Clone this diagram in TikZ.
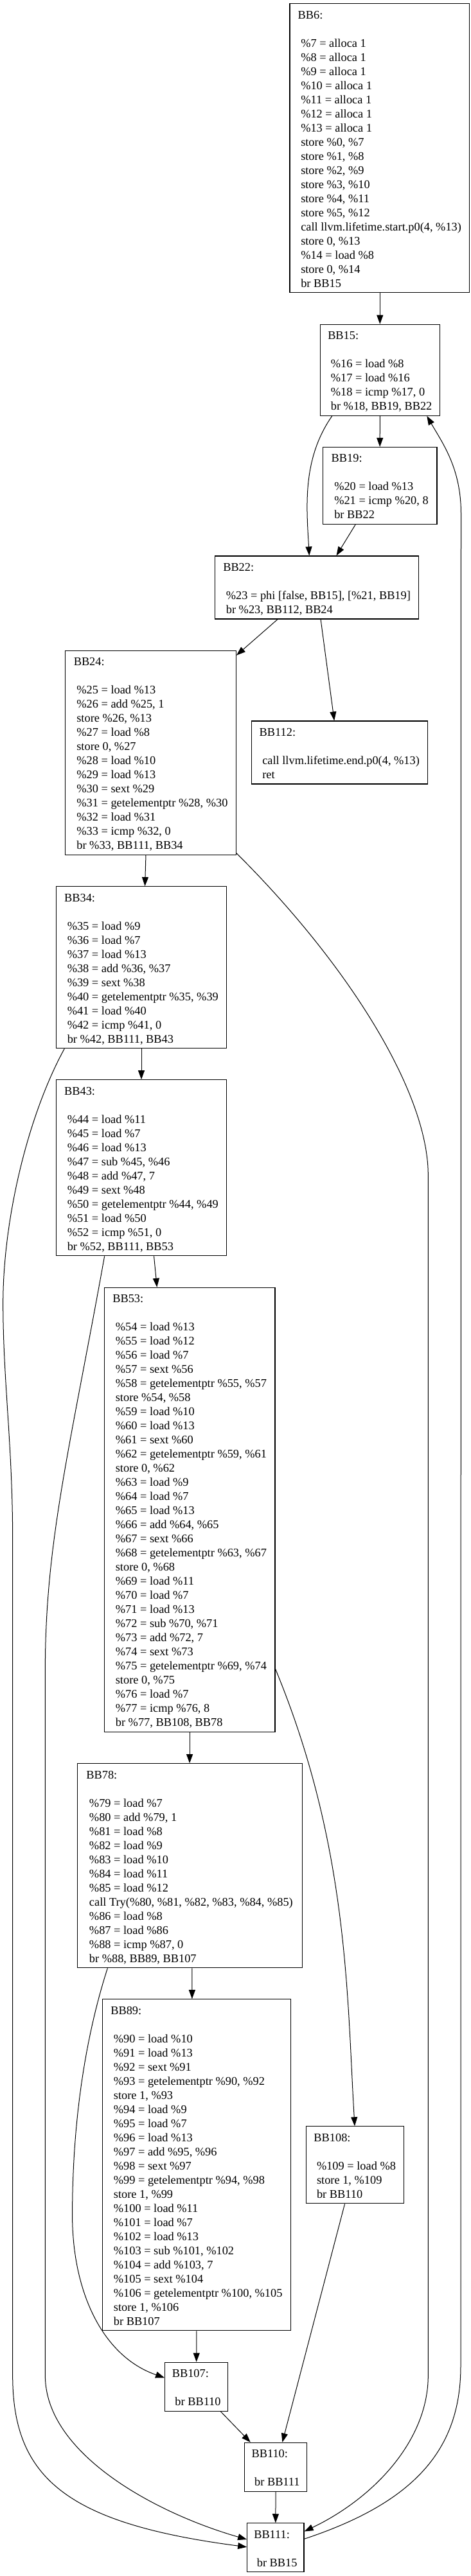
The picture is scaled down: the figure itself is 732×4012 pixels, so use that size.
\documentclass[tikz,border=0pt]{standalone}
\usepackage{fontspec}
\setmainfont{Liberation Serif}
\usetikzlibrary{arrows.meta}
\newcommand\sT{\rule[-3.6pt]{0pt}{22pt}}
\newcommand\iL{\sT\hspace*{0.25em}}
\newcommand\bbfont{\fontsize{18.35pt}{22pt}\selectfont}
\begin{document}
\lineskiplimit=-100pt\relax
\begin{tikzpicture}[x=1pt,y=-1pt,
  bb/.style={draw, line width=1.2pt, inner xsep=10.5pt, inner ysep=5pt, align=left, font=\bbfont},
  edge/.style={line width=1pt, -{Triangle[length=14pt,width=10pt]}}]
\useasboundingbox (0,0) rectangle (732,4012);

\node[bb, minimum width=279.6pt] (BB6) at (590.8,230.7) {\sT BB6:\\\sT\\\iL\%7 = alloca 1\\\iL\%8 = alloca 1\\\iL\%9 = alloca 1\\\iL\%10 = alloca 1\\\iL\%11 = alloca 1\\\iL\%12 = alloca 1\\\iL\%13 = alloca 1\\\iL store \%0, \%7\\\iL store \%1, \%8\\\iL store \%2, \%9\\\iL store \%3, \%10\\\iL store \%4, \%11\\\iL store \%5, \%12\\\iL call llvm.lifetime.start.p0(4, \%13)\\\iL store 0, \%13\\\iL\%14 = load \%8\\\iL store 0, \%14\\\iL br BB15};

\node[bb, minimum width=185.9pt] (BB15) at (591.3,576.3) {\sT BB15:\\\sT\\\iL\%16 = load \%8\\\iL\%17 = load \%16\\\iL\%18 = icmp \%17, 0\\\iL br \%18, BB19, BB22};

\node[bb, minimum width=177.4pt] (BB19) at (591.2,756.5) {\sT BB19:\\\sT\\\iL\%20 = load \%13\\\iL\%21 = icmp \%20, 8\\\iL br BB22};

\node[bb, minimum width=317.2pt] (BB22) at (493.1,915) {\sT BB22:\\\sT\\\iL\%23 = phi [false, BB15], [\%21, BB19]\\\iL br \%23, BB112, BB24};

\node[bb, minimum width=265.6pt] (BB24) at (234.6,1172.2) {\sT BB24:\\\sT\\\iL\%25 = load \%13\\\iL\%26 = add \%25, 1\\\iL store \%26, \%13\\\iL\%27 = load \%8\\\iL store 0, \%27\\\iL\%28 = load \%10\\\iL\%29 = load \%13\\\iL\%30 = sext \%29\\\iL\%31 = getelementptr \%28, \%30\\\iL\%32 = load \%31\\\iL\%33 = icmp \%32, 0\\\iL br \%33, BB111, BB34};

\node[bb, minimum width=274pt] (BB112) at (528.3,1172) {\sT BB112:\\\sT\\\iL call llvm.lifetime.end.p0(4, \%13)\\\iL ret};

\node[bb, minimum width=265.5pt] (BB34) at (220,1506.7) {\sT BB34:\\\sT\\\iL\%35 = load \%9\\\iL\%36 = load \%7\\\iL\%37 = load \%13\\\iL\%38 = add \%36, \%37\\\iL\%39 = sext \%38\\\iL\%40 = getelementptr \%35, \%39\\\iL\%41 = load \%40\\\iL\%42 = icmp \%41, 0\\\iL br \%42, BB111, BB43};

\node[bb, minimum width=265.5pt] (BB43) at (220,1818.8) {\sT BB43:\\\sT\\\iL\%44 = load \%11\\\iL\%45 = load \%7\\\iL\%46 = load \%13\\\iL\%47 = sub \%45, \%46\\\iL\%48 = add \%47, 7\\\iL\%49 = sext \%48\\\iL\%50 = getelementptr \%44, \%49\\\iL\%51 = load \%50\\\iL\%52 = icmp \%51, 0\\\iL br \%52, BB111, BB53};

\node[bb, minimum width=265.6pt] (BB53) at (295.1,2351.4) {\sT BB53:\\\sT\\\iL\%54 = load \%13\\\iL\%55 = load \%12\\\iL\%56 = load \%7\\\iL\%57 = sext \%56\\\iL\%58 = getelementptr \%55, \%57\\\iL store \%54, \%58\\\iL\%59 = load \%10\\\iL\%60 = load \%13\\\iL\%61 = sext \%60\\\iL\%62 = getelementptr \%59, \%61\\\iL store 0, \%62\\\iL\%63 = load \%9\\\iL\%64 = load \%7\\\iL\%65 = load \%13\\\iL\%66 = add \%64, \%65\\\iL\%67 = sext \%66\\\iL\%68 = getelementptr \%63, \%67\\\iL store 0, \%68\\\iL\%69 = load \%11\\\iL\%70 = load \%7\\\iL\%71 = load \%13\\\iL\%72 = sub \%70, \%71\\\iL\%73 = add \%72, 7\\\iL\%74 = sext \%73\\\iL\%75 = getelementptr \%69, \%74\\\iL store 0, \%75\\\iL\%76 = load \%7\\\iL\%77 = icmp \%76, 8\\\iL br \%77, BB108, BB78};

\node[bb, minimum width=350pt] (BB78) at (295.1,2905.7) {\sT BB78:\\\sT\\\iL\%79 = load \%7\\\iL\%80 = add \%79, 1\\\iL\%81 = load \%8\\\iL\%82 = load \%9\\\iL\%83 = load \%10\\\iL\%84 = load \%11\\\iL\%85 = load \%12\\\iL call Try(\%80, \%81, \%82, \%83, \%84, \%85)\\\iL\%86 = load \%8\\\iL\%87 = load \%86\\\iL\%88 = icmp \%87, 0\\\iL br \%88, BB89, BB107};

\node[bb, minimum width=292.8pt] (BB89) at (305.9,3371.8) {\sT BB89:\\\sT\\\iL\%90 = load \%10\\\iL\%91 = load \%13\\\iL\%92 = sext \%91\\\iL\%93 = getelementptr \%90, \%92\\\iL store 1, \%93\\\iL\%94 = load \%9\\\iL\%95 = load \%7\\\iL\%96 = load \%13\\\iL\%97 = add \%95, \%96\\\iL\%98 = sext \%97\\\iL\%99 = getelementptr \%94, \%98\\\iL store 1, \%99\\\iL\%100 = load \%11\\\iL\%101 = load \%7\\\iL\%102 = load \%13\\\iL\%103 = sub \%101, \%102\\\iL\%104 = add \%103, 7\\\iL\%105 = sext \%104\\\iL\%106 = getelementptr \%100, \%105\\\iL store 1, \%106\\\iL br BB107};

\node[bb, minimum width=152.1pt] (BB108) at (552.2,3371.8) {\sT BB108:\\\sT\\\iL\%109 = load \%8\\\iL store 1, \%109\\\iL br BB110};

\node[bb, minimum width=98pt] (BB107) at (305.7,3717.2) {\sT BB107:\\\sT\\\iL br BB110};

\node[bb, minimum width=97.2pt] (BB110) at (429.1,3842.3) {\sT BB110:\\\sT\\\iL br BB111};

\node[bb, minimum width=88.3pt] (BB111) at (428.9,3967.8) {\sT BB111:\\\sT\\\iL br BB15};

% edges
\draw[edge] (BB15.north |- BB6.south) -- (BB15.north);
\draw[edge] (BB15.south) -- (BB19.north);
\draw[edge] ([xshift=19pt]BB15.south west) .. controls (470,715) and (477,790) .. ([xshift=147.4pt]BB22.north west);
\draw[edge] ([xshift=51.2pt]BB19.south west) -- ([xshift=189.6pt]BB22.north west);
\draw[edge] ([xshift=98.1pt]BB22.south west) -- ([yshift=-8pt]BB24.north east);
\draw[edge] ([xshift=165.2pt]BB22.south west) -- ([xshift=129.5pt]BB112.north west);
\draw[edge] ([xshift=125.8pt]BB24.south west) -- ([xshift=138.9pt]BB34.north west);
\draw[edge] ([yshift=3pt]BB24.south east) .. controls (540,1500) and (666.3,1700) .. (666.3,1830) -- (666.3,3700) .. controls (666.3,3800) and (583,3890) .. ([yshift=-13.3pt]BB111.north east);
\draw[edge] (BB34.south) -- (BB43.north);
\draw[edge] ([xshift=13.6pt]BB34.south west) .. controls (43,1738) and (4.7,1900) .. (4.7,2030) .. controls (4.7,2150) and (19.7,2250) .. (19.7,2400) -- (19.7,3700) .. controls (19.7,3860) and (105.2,3930.3) .. ([yshift=1pt]BB111.west);
\draw[edge] ([xshift=152.9pt]BB43.south west) -- ([xshift=82.6pt]BB53.north west);
\draw[edge] ([xshift=76pt]BB43.south west) .. controls (110,2250) and (70.4,2400) .. (70.4,2600) -- (70.4,3700) .. controls (70.4,3820) and (238.4,3913) .. ([yshift=12.8pt]BB111.west);
\draw[edge] (BB53.south) -- (BB78.north);
\draw[edge] ([yshift=-594.3pt]BB53.north east) .. controls (543,2876) and (540,3112) .. ([xshift=76.5pt]BB108.north west);
\draw[edge] ([xshift=3.8pt]BB78.south) -- ([xshift=-7pt]BB89.north);
\draw[edge] ([xshift=47.9pt]BB78.south west) .. controls (140,3150) and (112.6,3280) .. (112.6,3450) .. controls (112.6,3570) and (160,3670) .. ([yshift=14pt]BB107.west);
\draw[edge] (BB89.south) -- (BB107.north);
\draw[edge] ([xshift=61pt]BB108.south west) -- ([xshift=59.5pt]BB110.north west);
\draw[edge] ([xshift=87.3pt]BB107.south west) -- ([xshift=9.9pt]BB110.north west);
\draw[edge] (BB110.south) -- (BB111.north);
\draw[edge] ([yshift=-25pt]BB111.north east) .. controls (645,3897.4) and (717,3815) .. (717,3685) -- (717.5,800) .. controls (717.5,730) and (689.5,691.3) .. ([xshift=-20.5pt]BB15.south east);
\end{tikzpicture}
\end{document}
